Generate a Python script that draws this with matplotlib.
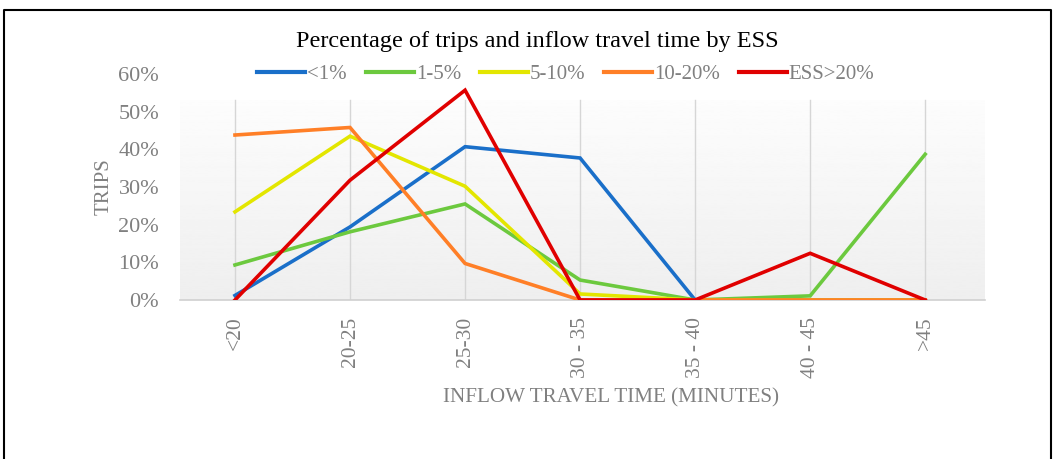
import numpy as np
import matplotlib.pyplot as plt
from matplotlib.lines import Line2D

# categories and series (share of trips)
categories = ["<20", "20-25", "25-30", "30 - 35", "35 - 40", "40 - 45", ">45"]
ess_lt1 = [0.012, 0.194, 0.407, 0.377, 0.0, 0.0, 0.0]
ess_1_5 = [0.093, 0.181, 0.255, 0.053, 0.0, 0.011, 0.387]
ess_5_10 = [0.234, 0.435, 0.302, 0.016, 0.0, 0.0, 0.0]
ess_10_20 = [0.438, 0.458, 0.097, 0.0, 0.0, 0.0, 0.0]
ess_gt20 = [0.0, 0.318, 0.557, 0.0, 0.0, 0.124, 0.0]

series = [
    ("<1%", ess_lt1, "#1a6fc9"),
    ("1-5%", ess_1_5, "#6cc93e"),
    ("5-10%", ess_5_10, "#e3e600"),
    ("10-20%", ess_10_20, "#ff7f27"),
    ("ESS>20%", ess_gt20, "#e00000"),
]

plt.rcParams["font.family"] = ["Liberation Serif", "DejaVu Serif"]
grey = "#808080"

fig = plt.figure(figsize=(10.55, 4.59), dpi=100)
ax = fig.add_axes([180 / 1055, 159 / 459, 805 / 1055, 226 / 459])

x = np.arange(len(categories))

# soft gradient background of the plot area
grad = np.linspace(0.935, 0.99, 256).reshape(-1, 1)
ax.imshow(grad, extent=[-0.478, 6.52, 0, 0.53], origin="lower", aspect="auto",
          cmap="gray", vmin=0, vmax=1, zorder=0)

for xi in x:
    ax.axvline(xi, ymin=0, ymax=0.53 / 0.6, color="#d6d6d6", lw=1, zorder=1)

for label, vals, col in series:
    ax.plot(x, vals, color=col, lw=2.6, label=label, zorder=3,
            solid_joinstyle="miter")

ax.set_xlim(-0.478, 6.52)
ax.set_ylim(0, 0.6)
ax.set_yticks(np.arange(0, 0.61, 0.1))
ax.set_yticklabels([f"{int(round(v * 100))}%" for v in np.arange(0, 0.61, 0.1)])
ax.set_xticks(x)
ax.set_xticklabels(categories, rotation=90)
ax.tick_params(length=0, labelsize=16, colors=grey, pad=15)
ax.tick_params(axis="x", labelsize=15.5, pad=12)

for s in ["top", "right", "left"]:
    ax.spines[s].set_visible(False)
ax.spines["bottom"].set_color("#d0d0d0")
ax.spines["bottom"].set_linewidth(1.2)
ax.set_facecolor("none")

fig.text(104 / 1055, 1 - 187 / 459, "TRIPS", rotation=90, ha="center", va="center",
         fontsize=15, color=grey)
fig.text(611 / 1055, 1 - 398 / 459, "INFLOW TRAVEL TIME (MINUTES)",
         ha="center", va="center", fontsize=15.2, color=grey)

fig.text(537 / 1055, 1 - 42 / 459, "Percentage of trips and inflow travel time by ESS",
         ha="center", va="center", fontsize=17.5, color="black")

handles = [Line2D([], [], color=c, lw=3) for _, _, c in series]
leg = fig.legend(handles, [s[0] for s in series], loc="center",
                 bbox_to_anchor=(566 / 1055, 1 - 74 / 459), ncol=5, frameon=False,
                 fontsize=15, handlelength=2.3, handletextpad=0.1, columnspacing=0.9)
for t in leg.get_texts():
    t.set_color(grey)

# outer border like the surrounding table cell
fig.add_artist(Line2D([4 / 1055, 4 / 1055, 1051 / 1055, 1051 / 1055],
                      [0, 1 - 10 / 459, 1 - 10 / 459, 0],
                      transform=fig.transFigure, color="black", lw=1.5))

fig.savefig("out.png", dpi=100)
